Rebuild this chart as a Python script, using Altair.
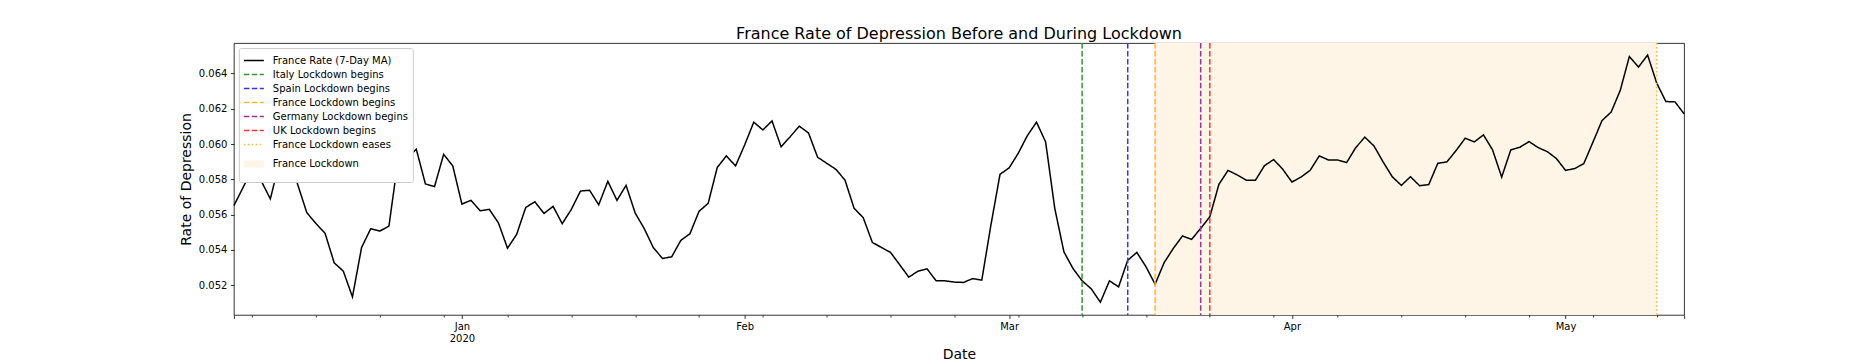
import altair as alt
import pandas as pd

# ---------------- data ----------------
START_DATE = "2019-12-07"
END_DATE = "2020-05-14"

line_label = "France Rate (7-Day MA)"
rate_7day = [
    0.05651, 0.05753, 0.05857, 0.05791, 0.05689, 0.05900, 0.05940, 0.05770, 0.05611, 0.05550,
    0.05494, 0.05327, 0.05280, 0.05134, 0.05414, 0.05520, 0.05507, 0.05535, 0.05910, 0.05920,
    0.05971, 0.05774, 0.05759, 0.05942, 0.05876, 0.05660, 0.05681, 0.05622, 0.05630, 0.05554,
    0.05410, 0.05488, 0.05641, 0.05673, 0.05607, 0.05647, 0.05549, 0.05630, 0.05734, 0.05738,
    0.05656, 0.05789, 0.05681, 0.05766, 0.05609, 0.05520, 0.05412, 0.05352, 0.05361, 0.05454,
    0.05492, 0.05619, 0.05664, 0.05868, 0.05933, 0.05876, 0.05995, 0.06124, 0.06080, 0.06131,
    0.05984, 0.06042, 0.06101, 0.06063, 0.05925, 0.05891, 0.05857, 0.05796, 0.05636, 0.05583,
    0.05443, 0.05414, 0.05386, 0.05316, 0.05246, 0.05280, 0.05293, 0.05225, 0.05225, 0.05218,
    0.05216, 0.05238, 0.05229, 0.05541, 0.05829, 0.05865, 0.05948, 0.06048, 0.06124, 0.06012,
    0.05636, 0.05390, 0.05295, 0.05225, 0.05180, 0.05104, 0.05225, 0.05191, 0.05342, 0.05386,
    0.05305, 0.05206, 0.05329, 0.05409, 0.05479, 0.05460, 0.05522, 0.05588, 0.05772, 0.05851,
    0.05825, 0.05795, 0.05795, 0.05878, 0.05912, 0.05857, 0.05785, 0.05813, 0.05851, 0.05933,
    0.05910, 0.05910, 0.05895, 0.05980, 0.06039, 0.05989, 0.05899, 0.05815, 0.05766, 0.05815,
    0.05764, 0.05770, 0.05891, 0.05899, 0.05963, 0.06033, 0.06012, 0.06052, 0.05967, 0.05813,
    0.05967, 0.05982, 0.06014, 0.05980, 0.05957, 0.05918, 0.05851, 0.05861, 0.05889, 0.06010,
    0.06133, 0.06181, 0.06304, 0.06496, 0.06436, 0.06504, 0.06345, 0.06241, 0.06239, 0.06171,
]

event_labels = [
    "Italy Lockdown begins",
    "Spain Lockdown begins",
    "France Lockdown begins",
    "Germany Lockdown begins",
    "UK Lockdown begins",
    "France Lockdown eases",
]
event_dates = ["2020-03-09", "2020-03-14", "2020-03-17", "2020-03-22", "2020-03-23", "2020-05-11"]

lockdown_label = "France Lockdown"
lockdown_start = "2020-03-17"
lockdown_end = "2020-05-11"

month_ticks = ["2020-01-01", "2020-02-01", "2020-03-01", "2020-04-01", "2020-05-01"]
y_ticks = [0.052, 0.054, 0.056, 0.058, 0.060, 0.062, 0.064]

series_order = [line_label] + event_labels + [lockdown_label]
series_colors = ["#000000", "#339933", "#3333ff", "#ffb733", "#993399", "#ff3333", "#ffb733", "#fef5e6"]
SOLID = [1, 0]
DASH = [5.55, 2.4]
DOT = [1.5, 2.475]
series_dashes = [SOLID, DASH, DASH, DASH, DASH, DASH, DOT, SOLID]
series_widths = [1.5, 1.5, 1.5, 1.5, 1.5, 1.5, 1.5, 7]


def iso(s):
    return pd.Timestamp(s).strftime("%Y-%m-%dT00:00:00")


def dt(s):
    t = pd.Timestamp(s)
    return alt.DateTime(year=t.year, month=t.month, date=t.day)


dates = pd.date_range(START_DATE, periods=len(rate_7day), freq="D")
line_df = pd.DataFrame({
    "date": [d.strftime("%Y-%m-%dT00:00:00") for d in dates],
    "rate": rate_7day,
    "series": line_label,
})
event_df = pd.DataFrame({"date": [iso(d) for d in event_dates], "series": event_labels})
span_df = pd.DataFrame({"start": [iso(lockdown_start)], "end": [iso(lockdown_end)], "series": [lockdown_label]})

mondays = pd.date_range("2019-12-09", END_DATE, freq="7D")

# ---------------- scales / guides ----------------
x_scale = alt.Scale(domain=[dt(START_DATE), dt(END_DATE)], nice=False)
y_scale = alt.Scale(domain=[0.05032, 0.06572], nice=False, zero=False)

legend = alt.Legend(
    title=None, orient="none", legendX=5, legendY=5,
    symbolType="M-1.333,0H1.333", symbolSize=225, labelFontSize=10, labelOffset=8,
    padding=4, rowPadding=0, fillColor="white", strokeColor="#cccccc",
    cornerRadius=2, labelColor="black", labelLimit=0,
)

color_enc = alt.Color("series:N", scale=alt.Scale(domain=series_order, range=series_colors), legend=legend)
dash_enc = alt.StrokeDash("series:N", scale=alt.Scale(domain=series_order, range=series_dashes), legend=legend)
width_enc = alt.StrokeWidth("series:N", scale=alt.Scale(type="ordinal", domain=series_order, range=series_widths), legend=legend)

major_axis = alt.Axis(
    orient="bottom",
    values=[dt(START_DATE)] + [dt(m) for m in month_ticks] + [dt(END_DATE)],
    labelExpr="date(datum.value) == 1 ? (month(datum.value) == 0 ? [timeFormat(datum.value, '%b'), timeFormat(datum.value, '%Y')] : timeFormat(datum.value, '%b')) : ''",
    tickSize=3.5, labelPadding=3.5, labelLineHeight=12, labelOverlap=False,
    labelFlush=False, labelFontSize=10,
    title="Date", titleX=725.5, titleY=44, titleBaseline="alphabetic", titleAlign="center",
    titleFontSize=14,
)
minor_axis = alt.Axis(
    orient="bottom", values=[dt(d) for d in mondays], labels=False, tickSize=2, title=None,
)
y_axis = alt.Axis(
    values=y_ticks, format=".3f", tickSize=3.5, labelPadding=3.5, labelFontSize=10,
    title="Rate of Depression", titleX=-43, titleY=136, titleAngle=270,
    titleBaseline="alphabetic", titleAlign="center", titleFontSize=14,
)

# ---------------- layers ----------------
span = alt.Chart(span_df).mark_rect(opacity=1).encode(
    x=alt.X("start:T", scale=x_scale, axis=None),
    x2="end:T",
    color=color_enc,
)

line = alt.Chart(line_df).mark_line().encode(
    x=alt.X("date:T", scale=x_scale, axis=major_axis),
    y=alt.Y("rate:Q", scale=y_scale, axis=y_axis),
    color=color_enc,
    strokeDash=dash_enc,
    strokeWidth=width_enc,
)

rules = alt.Chart(event_df).mark_rule().encode(
    x=alt.X("date:T", scale=x_scale, axis=minor_axis),
    color=color_enc,
    strokeDash=dash_enc,
    strokeWidth=width_enc,
)

chart = (
    alt.layer(span, line, rules)
    .resolve_axis(x="independent")
    .properties(
        width=1451, height=272,
        title=alt.TitleParams(
            "France Rate of Depression Before and During Lockdown",
            fontSize=16, fontWeight="normal", anchor="middle", frame="group",
            offset=6, dy=19, baseline="alphabetic", color="black",
        ),
        autosize=alt.AutoSizeParams(type="none"),
        padding={"left": 226, "top": 35, "right": 180, "bottom": 47},
    )
    .configure(font="DejaVu Sans")
    .configure_axis(
        labelColor="black", titleColor="black", tickColor="black", tickWidth=0.8,
        grid=False, domain=False, titleFontWeight="normal",
    )
    .configure_view(stroke="black", strokeWidth=0.8)
)

chart.save("out.html", embed_options={"renderer": "svg", "actions": False})
